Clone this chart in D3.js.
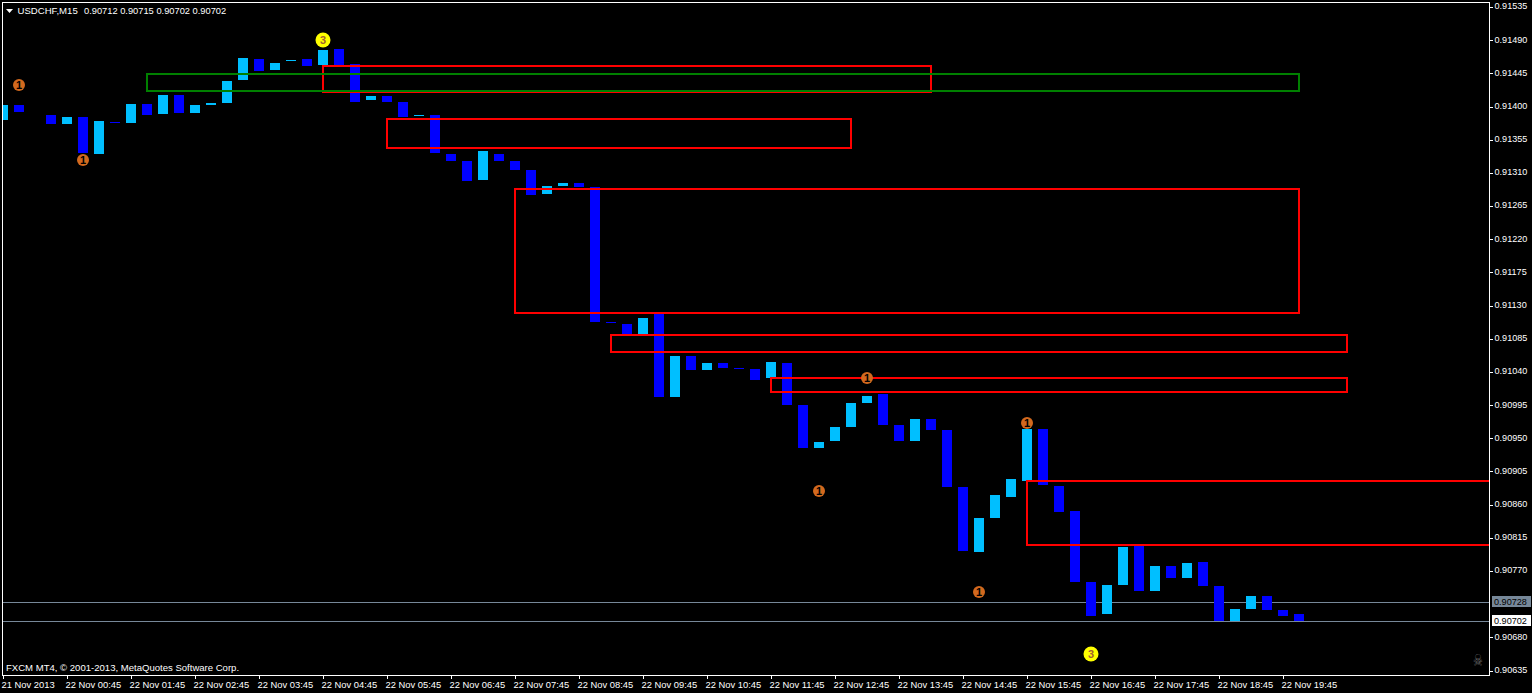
<!DOCTYPE html>
<html><head><meta charset="utf-8">
<script src="https://cdn.jsdelivr.net/npm/d3@7/dist/d3.min.js"></script>
<style>
html,body{margin:0;padding:0;background:#000;overflow:hidden}
svg{display:block}
text{font-family:"Liberation Sans",Arial,sans-serif;font-size:9.6px;fill:#fff}
</style></head><body><div id="chart"></div>
<script>
const titleName = "USDCHF,M15";
const titleQuote = "0.90712 0.90715 0.90702 0.90702";
const copyright = "FXCM MT4, © 2001-2013, MetaQuotes Software Corp.";
const opens = [91382,91402,null,91388,91376,91386,91336,91379,91378,91403,91390,91416,91391,91402,91405,91436,91464,91450,91462,91464,91456,91478,91458,91409,91414,91406,91387,91388,91336,91326,91300,91336,91326,91314,91281,91292,91296,91291,91108,91105,91091,91119,91006,91062,91043,91052,91045,91044,91032,91052,90995,90937,90946,90965,90998,91010,90968,90946,90976,90961,90884,90796,90842,90870,90892,90963,90885,90851,90755,90712,90751,90805,90743,90777,90760,90782,90750,90702,90718,90736,90717,90712];
const closes = [91402,91393,null,91376,91386,91337,91380,91378,91403,91388,91416,91391,91402,91405,91435,91466,91448,91459,91463,91455,91477,91456,91406,91414,91406,91386,91388,91337,91326,91299,91340,91326,91314,91280,91292,91296,91291,91108,91106,91091,91113,91006,91062,91043,91052,91045,91044,91029,91053,90995,90937,90945,90965,90998,91007,90968,90946,90976,90961,90884,90797,90842,90873,90895,90963,90887,90850,90755,90709,90751,90802,90743,90777,90760,90781,90750,90702,90718,90736,90717,90709,90702];
const priceTicks = [91535,91490,91445,91400,91355,91310,91265,91220,91175,91130,91085,91040,90995,90950,90905,90860,90815,90770,90680,90635];
const timeTickIdx = [0,4,8,12,16,20,24,28,32,36,40,44,48,52,56,60,64,68,72,76,80];
const timeTickLabels = ["21 Nov 2013","22 Nov 00:45","22 Nov 01:45","22 Nov 02:45","22 Nov 03:45","22 Nov 04:45","22 Nov 05:45","22 Nov 06:45","22 Nov 07:45","22 Nov 08:45","22 Nov 09:45","22 Nov 10:45","22 Nov 11:45","22 Nov 12:45","22 Nov 13:45","22 Nov 14:45","22 Nov 15:45","22 Nov 16:45","22 Nov 17:45","22 Nov 18:45","22 Nov 19:45"];
const redZones = [[20,58,91455,91420],[24,53,91383,91344],[32,81,91288,91120],[38,84,91090,91067],[48,84,91032,91013],[64,110,90892,90805]];
const greenZones = [[9,81,91444,91421]];
const markerOnes = [[1,91429],[5,91327],[54,91032],[51,90878],[64,90971],[61,90741]];
const markerThrees = [[20,91490],[68,90657]];
const priceLines = [[90728,"#778899","#000"],[90702,"#fff","#000"]];

const W=1532,H=693, L=2.5,T=2.5,R=1489.5,B=675.5;
const x=d3.scaleLinear().domain([0,1]).range([3,19]);
const y=d3.scaleLinear().domain([91535,90635]).range([7,670.5]);
const fmt=p=>(p/100000).toFixed(5);
const svg=d3.select("#chart").append("svg").attr("width",W).attr("height",H).style("background","#000");
svg.append("clipPath").attr("id","plot").append("rect").attr("x",L).attr("y",T).attr("width",R-L).attr("height",B-T);
const plot=svg.append("g").attr("clip-path","url(#plot)");

// price lines
plot.selectAll("line.pl").data(priceLines).join("line").attr("class","pl")
 .attr("x1",L).attr("x2",R).attr("y1",d=>Math.round(y(d[0]))+.5).attr("y2",d=>Math.round(y(d[0]))+.5)
 .attr("stroke","#778899").attr("shape-rendering","crispEdges");

// candle bodies
const idx=d3.range(opens.length).filter(i=>opens[i]!==null);
plot.selectAll("rect.bar").data(idx).join("rect").attr("class","bar")
 .attr("x",i=>Math.round(x(i))-5).attr("width",10)
 .attr("y",i=>Math.round(y(Math.max(opens[i],closes[i]))))
 .attr("height",i=>Math.max(1,Math.round(y(Math.min(opens[i],closes[i])))-Math.round(y(Math.max(opens[i],closes[i])))))
 .attr("fill",i=>closes[i]>opens[i]?"#00bfff":"#0000ff").attr("shape-rendering","crispEdges");

// zones
function zones(data,col){
 plot.append("g").selectAll("rect").data(data).join("rect")
  .attr("x",d=>Math.round(x(d[0]))).attr("width",d=>Math.round(x(d[1]))-Math.round(x(d[0])))
  .attr("y",d=>Math.round(y(d[2]))).attr("height",d=>Math.round(y(d[3]))-Math.round(y(d[2])))
  .attr("fill","none").attr("stroke",col).attr("stroke-width",2).attr("shape-rendering","crispEdges");
}
zones(redZones,"#ff0000");
zones(greenZones,"#008000");

// markers
function markers(data,r,fill){
 const g=plot.append("g").selectAll("g").data(data).join("g")
  .attr("transform",d=>`translate(${x(d[0])},${Math.round(y(d[1]))})`);
 g.append("circle").attr("r",r).attr("fill",fill);
 return g;
}
markers(markerOnes,6,"#d2691e").append("text").attr("text-anchor","middle").attr("y",4)
 .style("font-size","11px").style("font-weight","bold").style("fill","#000").text("1");
markers(markerThrees,7.5,"#ffff00").append("text").attr("text-anchor","middle").attr("y",4)
 .style("font-size","11px").style("font-weight","bold").style("fill","#a06030").text("3");

// frame and axes
svg.append("rect").attr("x",L).attr("y",T).attr("width",R-L).attr("height",B-T)
 .attr("fill","none").attr("stroke","#fff").attr("shape-rendering","crispEdges");
const ax=svg.append("g").attr("transform",`translate(${R},0)`)
 .call(d3.axisRight(y).tickValues(priceTicks).tickFormat(fmt).tickSize(3).tickPadding(2));
const bx=svg.append("g").attr("transform",`translate(0,${B})`)
 .call(d3.axisBottom(x).tickValues(timeTickIdx).tickFormat((d,i)=>timeTickLabels[i]).tickSize(3).tickPadding(2));
[ax,bx].forEach(g=>{g.select(".domain").remove();g.selectAll("line").attr("stroke","#fff").attr("shape-rendering","crispEdges");
 g.selectAll("text").attr("fill","#fff").style("font-family",'"Liberation Sans"');});
bx.selectAll("text").attr("text-anchor","start").attr("dx",-2).attr("y",6).style("font-size","9.4px");
ax.selectAll("text").attr("x",5).attr("y",-1).style("font-size","9.1px");

// current-price labels
const pl=svg.append("g").selectAll("g").data(priceLines).join("g")
 .attr("transform",d=>`translate(${R+2.5},${Math.round(y(d[0]))})`);
pl.append("rect").attr("y",-6).attr("width",39).attr("height",11).attr("fill",d=>d[1]).attr("shape-rendering","crispEdges");
pl.append("text").attr("x",2).attr("y",3.2).style("fill",d=>d[2]).style("font-size","9.1px").text(d=>fmt(d[0]));

// header
svg.append("path").attr("d","M6,9H13L9.5,13Z").attr("fill","#fff");
svg.append("text").attr("x",17.5).attr("y",14).text(titleName);
svg.append("text").attr("x",84).attr("y",14).style("font-size","9.3px").text(titleQuote);
svg.append("text").attr("x",6).attr("y",671).style("font-size","9.55px").text(copyright);
svg.append("text").attr("text-anchor","middle").attr("transform","translate(1478,666) scale(0.85,1.25)")
 .style("font-family",'"DejaVu Sans"').style("font-size","13px").style("fill","#666").text("☠");
</script></body></html>
